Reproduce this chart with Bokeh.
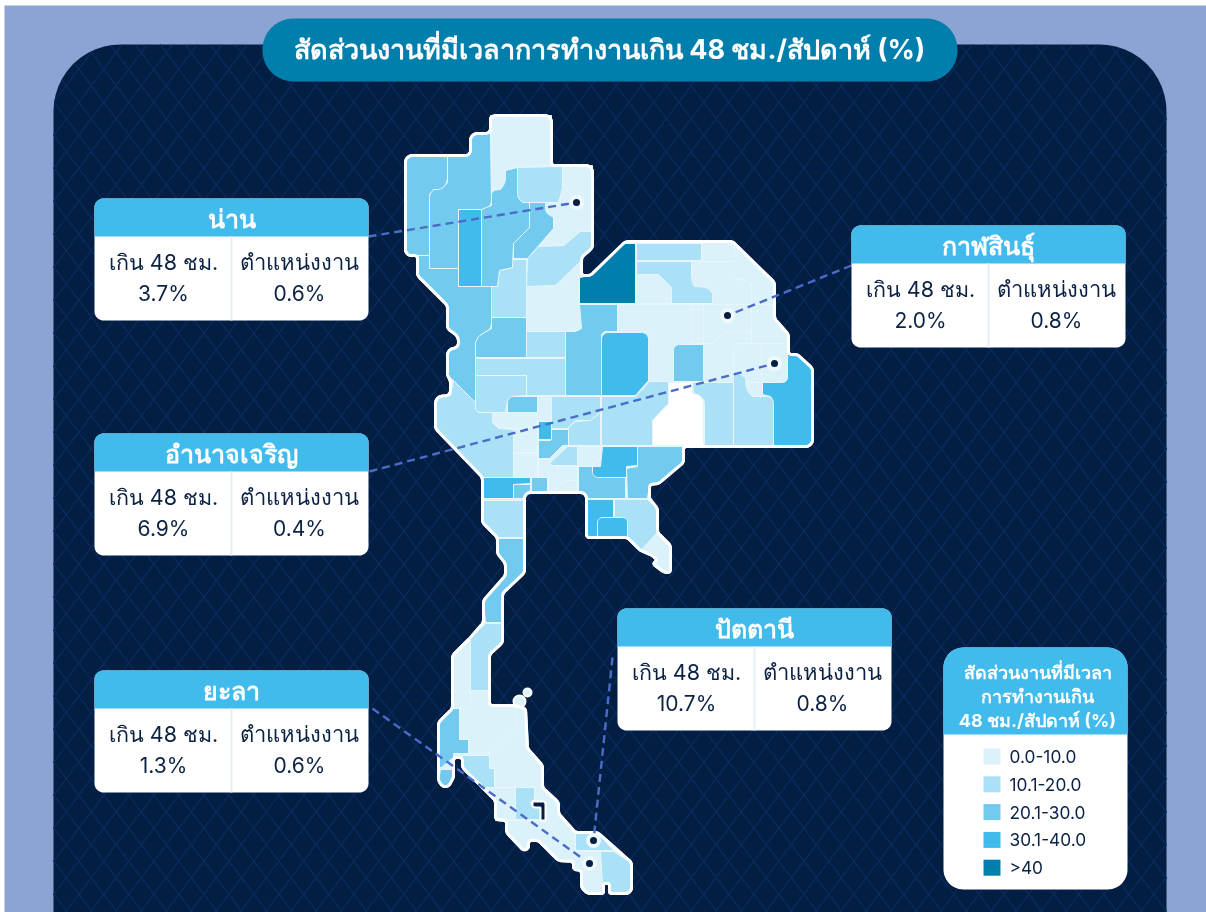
import numpy as np
from bokeh.plotting import figure
from bokeh.embed import file_html
from bokeh.resources import INLINE
from bokeh.models import Range1d
from bokeh.core.properties import value

FONT = "Inter"
COL_PAGE = "#8ba4d3"; COL_PANEL = "#021e42"; COL_HATCH = "#0b2a5b"; COL_PILL = "#007fad"
COL_HEAD = "#41bbec"; COL_INK = "#0b2245"; COL_LEAD = "#4a6cc8"; COL_EDGE = "#e6f6fc"

title_text = "สัดส่วนงานที่มีเวลาการทำงานเกิน 48 ชม./สัปดาห์ (%)"
head_over = "เกิน 48 ชม."
head_jobs = "ตำแหน่งงาน"
card_names = ["น่าน", "กาฬสินธุ์", "อำนาจเจริญ", "ยะลา", "ปัตตานี"]
card_over = ["3.7%", "2.0%", "6.9%", "1.3%", "10.7%"]
card_jobs = ["0.6%", "0.8%", "0.4%", "0.6%", "0.8%"]
card_left = [94, 851, 94, 94, 617]
card_top = [198, 225, 433, 670, 608]
lead_from = [(368, 236), (851, 265), (369, 471), (372, 708), (612, 657)]
lead_to = [(576, 202), (727, 315), (774, 363), (589, 863), (593, 840)]

legend_title = ["สัดส่วนงานที่มีเวลา", "การทำงานเกิน", "48 ชม./สัปดาห์ (%)"]
legend_labels = ["0.0-10.0", "10.1-20.0", "20.1-30.0", "30.1-40.0", ">40"]
legend_colors = ["#dcf2fb", "#aae1f7", "#72caef", "#41bbec", "#007fae"]

# Country outline, in reference pixels; a third number rounds that corner.
outline = [(490,122,7),(490,115,7),(551,115,7),(551,165),(592,165,7),(592,247),(581,257),(581,275),(590,275),
 (625,241,4),(732,241),(774,282),(774,318),(788,334),(788,354),(797,354),(812,368),(812,446,7),(683,446),
 (683,462),(658,483),(649,484),(649,498),(657,508),(657,532),(670,545),(670,572),(664,572),(652,563),(657,560),(652,555),(640,550),(627,537),
 (586,537),(586,492,6),(524,492,6),(524,572),(502,593),(502,642),(489,654),(489,705),(514,705),
 (525,708),(527,748),(542,765),(542,787),(558,802),(558,813),(575,832),(597,832),(631,862),(631,893,6),(609,893,2),(609,883,2),
 (603,883,2),(603,893,2),(587,893),(581,887),(581,870),(573,869),(573,861),(558,860),(538,840),(528,840),(528,848),(523,850),(506,832),
 (506,820),(495,819),(495,800),(462,767),(462,757),(453,757),(453,777),(448,786),(442,786),(438,780),(438,722),(452,708),(452,655),
 (470,637),(483,622),(483,600),(505,575),(505,563),(497,553),(497,537),(482,522),(482,477),(435,428),(435,396,7),(450,395,5),
 (450,380),(447,375),(447,349,6),(458,347,5),(458,336,5),(447,328),(447,305),(417,275),(417,255),(405,255,6),
 (405,155,7),(470,155,5),(470,133,7),(490,133,5)]

prov_c0 = [
 [(490,120),(490,115),(551,115),(551,165),(517,167),(505,170),(505,182),(500,189),(491,190)],
 [(545,202),(558,202),(562,188),(562,166),(592,165),(592,231),(580,231),(565,244),(538,246),(553,228),(553,217),(545,212)],
 [(526,286),(555,285),(581,260),(581,328,4),(575,331),(526,331)],
 [(617,304),(635,304),(635,241),(732,241),(774,282),(774,318),(788,334),(788,378),(782,382),(667,382),(648,382),(648,332,5),(642,332),(617,332)],
 [(733,373),(740,374),(745,377),(746,390),(752,396),(762,396),(762,382),(733,382)],
 [(537,396),(551,396),(551,421),(537,421)],
 [(492,412),(537,412),(537,426),(514,428),(500,428),(492,420)],
 [(513,429),(537,426),(537,452),(513,452)],
 [(513,453),(537,453),(537,477),(513,477)],
 [(538,459),(550,459),(550,465),(557,466),(557,473,3),(553,477),(538,477)],
 [(577,446),(600,446),(600,458),(590,466),(577,466)],
 [(548,477),(557,473),(557,466),(577,466),(577,480),(565,480),(555,488),(554,492),(548,492)],
 [(555,488),(565,480),(577,480),(577,492),(554,492)],
 [(640,550),(657,532),(670,545),(670,572),(664,572),(652,563),(657,560),(652,555)],
 [(452,655),(470,637),(470,708),(452,708)],
 [(470,690),(489,690),(489,705),(514,705),(516,708),(515,728),(489,752),(468,754),(468,739),(459,739),(459,708),(470,708)],
 [(489,752),(515,728),(516,707),(525,708),(527,748),(542,765),(542,787),(495,787),(494,768),(489,768)],
 [(485,787),(515,787),(515,820),(495,820),(495,800)],
 [(534,787),(542,787),(558,802),(558,813),(575,832),(575,861),(558,860),(538,840),(528,840),(528,848),(523,850),(506,832),(506,820),(545,820),(545,801),(534,798)],
 [(575,851),(600,851),(602,883),(603,893),(587,893),(581,887),(581,870),(573,869),(573,861),(575,861)],
 [(636,261),(658,274),(671,287),(671,303),(636,303),(636,274)],
]
prov_c1 = [
 [(517,167),(562,166),(562,188),(558,202),(522,202),(517,197,4)],
 [(527,258),(538,246),(563,245),(580,231),(592,231),(592,247),(581,257),(581,260),(555,285),(526,286)],
 [(512,259),(526,259),(526,317),(491,317),(491,286),(497,286),(499,270),(512,267)],
 [(526,331),(565,331),(565,357),(526,357)],
 [(475,358),(565,358),(565,395),(526,395),(526,375),(475,375)],
 [(475,375),(526,375),(526,395),(512,396),(507,400),(505,412),(478,412,4),(475,409)],
 [(636,243),(701,243),(701,260),(636,260)],
 [(636,261),(691,261),(691,280,5),(694,286,0),(707,287,5),(712,293,0),(712,303),(671,303),(671,287),(658,274),(636,274)],
 [(733,373),(740,374),(745,377),(746,390,5),(752,396,0),(770,396,4),(773,400,0),(773,445),(733,445)],
 [(703,382),(733,382),(733,445),(704,445),(704,400,4),(699,395,0),(693,393,4),(692,382)],
 [(601,396),(635,396),(649,381),(668,381),(668,403),(652,420),(652,445),(601,445)],
 [(551,396),(600,396),(600,412),(590,420),(575,420),(568,427),(568,428),(551,428)],
 [(568,427),(575,421),(590,420),(600,412),(600,445),(568,445)],
 [(453,380),(475,402),(475,409),(478,412),(492,412),(492,422),(498,428),(513,429),(513,477),(482,477),(435,428),(435,396,7),(450,395)],
 [(550,462),(567,446),(577,446),(577,465),(550,465)],
 [(483,500),(523,500),(523,537),(497,537),(482,522)],
 [(470,637),(485,623),(502,623),(502,642),(489,654),(489,690),(470,690)],
 [(462,755),(489,755),(489,768),(494,768),(494,787),(484,787),(462,767)],
 [(515,787),(534,787),(534,798),(530,802),(532,807),(540,807),(540,819),(515,819)],
 [(575,832),(597,832),(613,850),(575,850)],
 [(600,851),(613,851),(631,862),(631,893,6),(609,893),(609,883),(602,883)],
 [(614,499),(647,499),(657,508),(657,532),(640,550),(627,537),(627,522,5),(622,517,0),(614,517)],
]
prov_c2 = [
 [(405,155,7),(447,155),(447,182,6),(441,189,0),(433,189,4),(429,194,0),(429,255),(405,255,6)],
 [(447,155),(470,155,5),(470,133,7),(490,133),(491,205,6),(484,209,0),(458,209),(458,268),(429,268),(429,194,4),(433,189,0),(441,189,6),(447,182,0)],
 [(417,255),(429,255),(429,268),(458,268),(458,286),(491,286),(491,328,6),(484,332,0),(478,336,4),(475,342,0),(475,402),(453,380),(447,375),(447,349,6),(458,347,5),(458,336,5),(447,328),(447,305),(417,275)],
 [(505,170),(517,167),(517,197,4),(522,202,0),(529,202),(529,227),(513,243),(512,267),(499,270),(497,286),(481,286),(481,209),(491,205),(491,190,5),(500,189,0),(505,182,5)],
 [(529,202),(545,202),(545,212,4),(553,217,0),(553,228),(527,258),(513,258),(513,243),(529,227)],
 [(491,317),(526,317),(526,357),(475,357),(475,342),(478,336),(484,332),(491,328)],
 [(579,304),(617,304),(617,331),(604,331),(601,334),(601,395),(565,395),(565,331),(575,331),(581,328)],
 [(673,344,6),(703,344),(703,381),(673,381)],
 [(507,412),(537,412),(537,396),(507,396,6)],
 [(551,429),(568,429),(568,445),(562,445),(549,458),(538,458),(538,440),(550,440)],
 [(578,466),(592,466),(592,472),(597,477),(625,477),(625,498),(586,498),(585,493),(578,491)],
 [(637,446),(682,446),(682,462),(658,483),(649,484),(647,498),(627,498),(626,468),(637,466)],
 [(513,484),(530,484),(530,490),(525,493),(523,498),(513,498)],
 [(531,477),(547,477),(547,492),(527,492),(531,490)],
 [(498,538),(523,538),(524,572),(502,593),(502,622),(485,622),(483,600),(505,575),(505,563),(497,553)],
 [(452,708),(459,708),(459,739),(468,739),(468,753),(453,753),(453,757),(441,767),(438,767),(438,722)],
 [(440,769),(453,769),(453,777),(448,786),(442,786),(438,780)],
]
prov_c3 = [
 [(458,209),(481,209),(481,286),(458,286)],
 [(601,332,7),(648,332,7),(648,380),(635,395),(601,395)],
 [(787,354),(797,354),(812,368),(812,446,7),(773,446),(773,400,4),(770,396,0),(762,394),(762,382),(787,382,5)],
 [(538,421),(551,421),(551,439),(538,439)],
 [(602,446),(637,446),(637,465),(626,466),(626,477),(592,477,6),(592,466),(600,466)],
 [(482,477),(530,477),(530,483),(513,484),(513,498),(482,498)],
 [(586,499),(613,499),(613,517),(601,517),(597,522),(597,537),(586,537)],
 [(597,537),(597,517,5),(627,517,5),(627,537)],
]
prov_c4 = [
 [(579,277),(590,275),(623,243),(635,243),(635,303),(579,303)],
]
prov_blank = [
 [(668,382),(692,382),(692,393),(699,395),(703,400),(703,445),(652,445),(652,420),(668,403)],
]
# province borders inside the pale north-east block
edge_lines = [
 [(617,304),(773,304)],[(691,304),(691,343)],[(691,343),(713,343),(718,337),(723,332),(751,331)],
 [(751,282),(751,343)],[(733,347),(738,343),(787,343)],[(761,343),(761,380)],[(733,347),(733,382)],
 [(734,241),(734,261)],[(701,243),(701,261)],[(691,261),(734,261)],[(734,278),(745,280),(751,286)],[(703,344),(703,304)],
]
lake = [(532,801),(541,801,3),(545,801,3),(545,820),(540,820),(540,807),(532,807,3)]
island_x = [519, 527]; island_y = [701, 692]; island_r = [6, 4]


def rounded(vertices, default=0.0):
    """Polygon corners softened with a circular (conic) arc."""
    pts = [tuple(v) for v in vertices]
    xs, ys = [], []
    n = len(pts)
    for i, v in enumerate(pts):
        r = v[2] if len(v) > 2 else default
        x, y = v[0], v[1]
        if r <= 0:
            xs.append(x); ys.append(y); continue
        a, b = pts[i - 1], pts[(i + 1) % n]
        la, lb = np.hypot(a[0]-x, a[1]-y), np.hypot(b[0]-x, b[1]-y)
        if la == 0 or lb == 0:
            xs.append(x); ys.append(y); continue
        ra, rb = min(r, la/2), min(r, lb/2)
        p0 = (x + (a[0]-x)*ra/la, y + (a[1]-y)*ra/la)
        p2 = (x + (b[0]-x)*rb/lb, y + (b[1]-y)*rb/lb)
        cosphi = ((a[0]-x)*(b[0]-x) + (a[1]-y)*(b[1]-y)) / (la*lb)
        w = np.sin(np.arccos(np.clip(cosphi, -1, 1)) / 2)
        for t in np.linspace(0, 1, 13):
            d = (1-t)**2 + 2*t*(1-t)*w + t*t
            xs.append(((1-t)**2*p0[0] + 2*t*(1-t)*w*x + t*t*p2[0]) / d)
            ys.append(((1-t)**2*p0[1] + 2*t*(1-t)*w*y + t*t*p2[1]) / d)
    return xs, ys


def box(x0, y0, x1, y1, rt=0, rb=0):
    return rounded([(x0,y0,rt),(x1,y0,rt),(x1,y1,rb),(x0,y1,rb)])


W, H = 1206, 912
p = figure(width=W, height=H, x_range=Range1d(0, W), y_range=Range1d(H, 0),
           output_backend="svg", toolbar_location=None, min_border=0,
           outline_line_color=None, background_fill_color="white",
           styles={"position": "fixed", "left": "0px", "top": "0px"})
p.axis.visible = False
p.grid.visible = False


def fill(poly, color, line=None, lw=0):
    xs, ys = poly
    p.patch(xs, ys, fill_color=color, line_color=line, line_width=lw)


def label(x, y, txt, size, color, style="normal", align="center"):
    p.text([x], [y], text=[txt], text_font=value(FONT), text_font_size=f"{size}px", text_color=color,
           text_font_style=style, text_align=align, text_baseline="middle")


# page and panel
PX0, PX1, PY0, PY1, PR = 53, 1166, 44, 912, 67
fill(box(4, 5, 1206, 912), COL_PAGE)
fill(rounded([(PX0,PY0,PR),(PX1,PY0,PR),(PX1,PY1,0),(PX0,PY1,0)]), COL_PANEL)

# lattice texture clipped to the panel
def in_panel(x, y):
    ok = (x >= PX0) & (x <= PX1) & (y >= PY0) & (y <= PY1)
    top = y < PY0 + PR
    ok &= ~(top & (x < PX0 + PR) & (np.hypot(x - (PX0 + PR), y - (PY0 + PR)) > PR))
    ok &= ~(top & (x > PX1 - PR) & (np.hypot(x - (PX1 - PR), y - (PY0 + PR)) > PR))
    return ok

hx, hy = [], []
DX, DY = 25.0, 33.0
for sign in (1, -1):
    for k in range(-60, 60):
        x = np.linspace(PX0, PX1, 1400)
        y = sign * (x - 928.3) * DY / DX + 431.7 + k * DY
        idx = np.where(in_panel(x, y))[0]
        if len(idx) < 2:
            continue
        hx.append(list(x[idx[0]:idx[-1]+1])); hy.append(list(y[idx[0]:idx[-1]+1]))
p.multi_line(hx, hy, line_color=COL_HATCH, line_width=1.4)

# title pill
fill(box(262, 18, 957, 81, 31, 31), COL_PILL)
label(609, 49, title_text, 27, "white", "bold")

# map
ox, oy = rounded(outline, default=3)
p.patch(ox, oy, fill_color=legend_colors[0], line_color="white", line_width=3)
p.circle(island_x, island_y, radius=island_r, fill_color=legend_colors[0], line_color="white", line_width=2)
for polys, col in [(prov_c0, legend_colors[0]), (prov_c1, legend_colors[1]), (prov_c2, legend_colors[2]),
                   (prov_c3, legend_colors[3]), (prov_c4, legend_colors[4]), (prov_blank, "white")]:
    shapes = [rounded(q) for q in polys]
    p.patches([s[0] for s in shapes], [s[1] for s in shapes], fill_color=col, line_color=COL_EDGE, line_width=1)
p.multi_line([[q[0] for q in l] for l in edge_lines], [[q[1] for q in l] for l in edge_lines],
             line_color=COL_EDGE, line_width=1)
p.line(ox + ox[:1], oy + oy[:1], line_color="white", line_width=3)
lx, ly = rounded(lake)
p.patch(lx, ly, fill_color=COL_PANEL, line_color="white", line_width=2)

# leader lines and markers
p.multi_line([[a[0], b[0]] for a, b in zip(lead_from, lead_to)], [[a[1], b[1]] for a, b in zip(lead_from, lead_to)],
             line_color=COL_LEAD, line_width=2.4, line_dash="8 5")
mx = [t[0] for t in lead_to]; my = [t[1] for t in lead_to]
p.scatter(mx, my, size=15, fill_color="#eef9fe", line_color=None)
p.scatter(mx, my, size=7, fill_color=COL_PANEL, line_color=None)

# cards
CW, CH, HD = 274, 122, 38
for nm, ov, jb, cx, cy in zip(card_names, card_over, card_jobs, card_left, card_top):
    fill(box(cx, cy, cx+CW, cy+CH, 9, 9), "white")
    fill(rounded([(cx,cy,9),(cx+CW,cy,9),(cx+CW,cy+HD),(cx,cy+HD)]), COL_HEAD)
    p.segment([cx+137], [cy+HD], [cx+137], [cy+CH], line_color="#e3f0fa", line_width=2)
    label(cx+137, cy+20, nm, 25, "white", "bold")
    label(cx+69, cy+63, head_over, 21.5, COL_INK)
    label(cx+69, cy+95, ov, 21, COL_INK)
    label(cx+205, cy+63, head_jobs, 22, COL_INK)
    label(cx+205, cy+95, jb, 21, COL_INK)

# legend
fill(box(943, 647, 1127, 889, 20, 20), "white")
fill(rounded([(943,647,20),(1127,647,20),(1127,734),(943,734)]), COL_HEAD)
for i, t in enumerate(legend_title):
    label(1037, 672 + 24*i, t, 18, "white", "bold")
for i, (t, c) in enumerate(zip(legend_labels, legend_colors)):
    yy = 756 + 27.8*i
    fill(box(983, yy-8, 1000, yy+8), c)
    label(1009, yy, t, 17.3, COL_INK, align="left")

open("out.html", "w").write(file_html(p, INLINE))
